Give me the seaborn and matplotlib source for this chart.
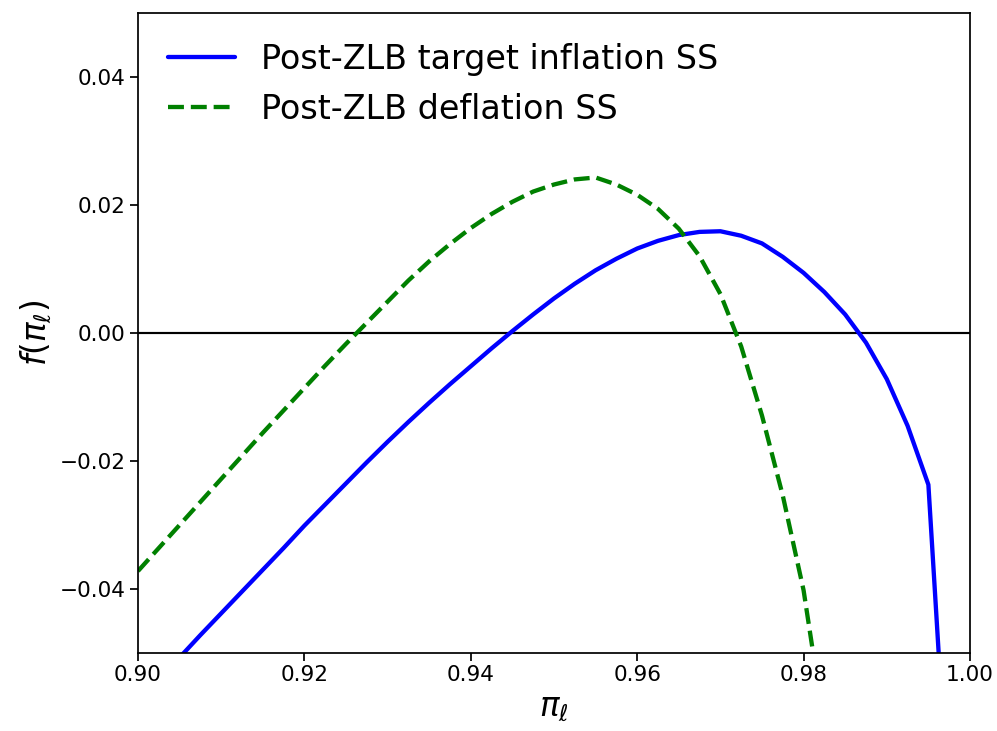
import numpy as np
import pandas as pd
import seaborn as sns
import matplotlib
matplotlib.use("Agg")
import matplotlib.pyplot as plt

# Inflation grid (pi_l) and residual f(pi_l) for the two steady states
pi_target = [0.9000, 0.9025, 0.9050, 0.9075, 0.9100, 0.9125, 0.9150, 0.9175,
             0.9200, 0.9225, 0.9250, 0.9275, 0.9300, 0.9325, 0.9350, 0.9375,
             0.9400, 0.9425, 0.9450, 0.9475, 0.9500, 0.9525, 0.9550, 0.9575,
             0.9600, 0.9625, 0.9650, 0.9675, 0.9700, 0.9725, 0.9750, 0.9775,
             0.9800, 0.9825, 0.9850, 0.9875, 0.9900, 0.9925, 0.9950, 1.0000]
f_target = [-0.0576, -0.0541, -0.0507, -0.0472, -0.0438, -0.0404, -0.0370,
            -0.0336, -0.0301, -0.0268, -0.0235, -0.0202, -0.0170, -0.0139,
            -0.0109, -0.0080, -0.0052, -0.0024, 0.0003, 0.0029, 0.0054,
            0.0077, 0.0098, 0.0116, 0.0132, 0.0144, 0.0153, 0.0158, 0.0159,
            0.0152, 0.0140, 0.0119, 0.0094, 0.0064, 0.0029, -0.0015, -0.0072,
            -0.0145, -0.0237, -0.1300]

pi_deflation = [0.9000, 0.9025, 0.9050, 0.9075, 0.9100, 0.9125, 0.9150,
                0.9175, 0.9200, 0.9225, 0.9250, 0.9275, 0.9300, 0.9325,
                0.9350, 0.9375, 0.9400, 0.9425, 0.9450, 0.9475, 0.9500,
                0.9525, 0.9550, 0.9575, 0.9600, 0.9625, 0.9650, 0.9675,
                0.9700, 0.9725, 0.9750, 0.9775, 0.9800, 0.9825]
f_deflation = [-0.0372, -0.0336, -0.0300, -0.0264, -0.0228, -0.0192, -0.0156,
               -0.0121, -0.0086, -0.0051, -0.0017, 0.0016, 0.0049, 0.0082,
               0.0112, 0.0139, 0.0164, 0.0186, 0.0205, 0.0221, 0.0232,
               0.0240, 0.0243, 0.0232, 0.0216, 0.0194, 0.0163, 0.0120,
               0.0061, -0.0021, -0.0129, -0.0254, -0.0402, -0.0615]

labels = ["Post-ZLB target inflation SS", "Post-ZLB deflation SS"]

sns.set_style("white")
plt.rcParams["font.family"] = ["DejaVu Sans"]
plt.rcParams["mathtext.fontset"] = "dejavusans"
plt.rcParams["text.color"] = "black"

fig = plt.figure(figsize=(9.97, 7.31), dpi=100)
ax = fig.add_axes([0.1384, 0.1067, 0.8345, 0.8755])

df_t = pd.DataFrame({"pi": pi_target, "f": f_target})
df_d = pd.DataFrame({"pi": pi_deflation, "f": f_deflation})

sns.lineplot(data=df_t, x="pi", y="f", ax=ax, color="blue", linewidth=3.1,
             label=labels[0], sort=False)
sns.lineplot(data=df_d, x="pi", y="f", ax=ax, color="green", linewidth=3.1,
             linestyle="--", label=labels[1], sort=False)
ax.axhline(0.0, color="black", linewidth=1.56, zorder=1)

ax.set_xlim(0.90, 1.00)
ax.set_ylim(-0.05, 0.05)
ax.set_xticks([0.90, 0.92, 0.94, 0.96, 0.98, 1.00])
ax.set_yticks([-0.04, -0.02, 0.00, 0.02, 0.04])
ax.set_xticklabels(["0.90", "0.92", "0.94", "0.96", "0.98", "1.00"])
ax.set_yticklabels(["\u22120.04", "\u22120.02", "0.00", "0.02", "0.04"])

ax.tick_params(axis="both", which="major", direction="out", length=5.45,
               width=1.25, labelsize=15.6, color="black", labelcolor="black",
               bottom=True, left=True)
for sp in ax.spines.values():
    sp.set_visible(True)
    sp.set_color("black")
    sp.set_linewidth(1.25)

ax.set_xlabel(r"$\pi_\ell$", fontsize=23.5, color="black")
ax.set_ylabel(r"$f(\pi_\ell)$", fontsize=23.5, color="black")

leg = ax.legend(loc="upper left", frameon=False, fontsize=24, handlelength=2.0)
for t in leg.get_texts():
    t.set_color("black")

fig.savefig("out.png", dpi=100)
